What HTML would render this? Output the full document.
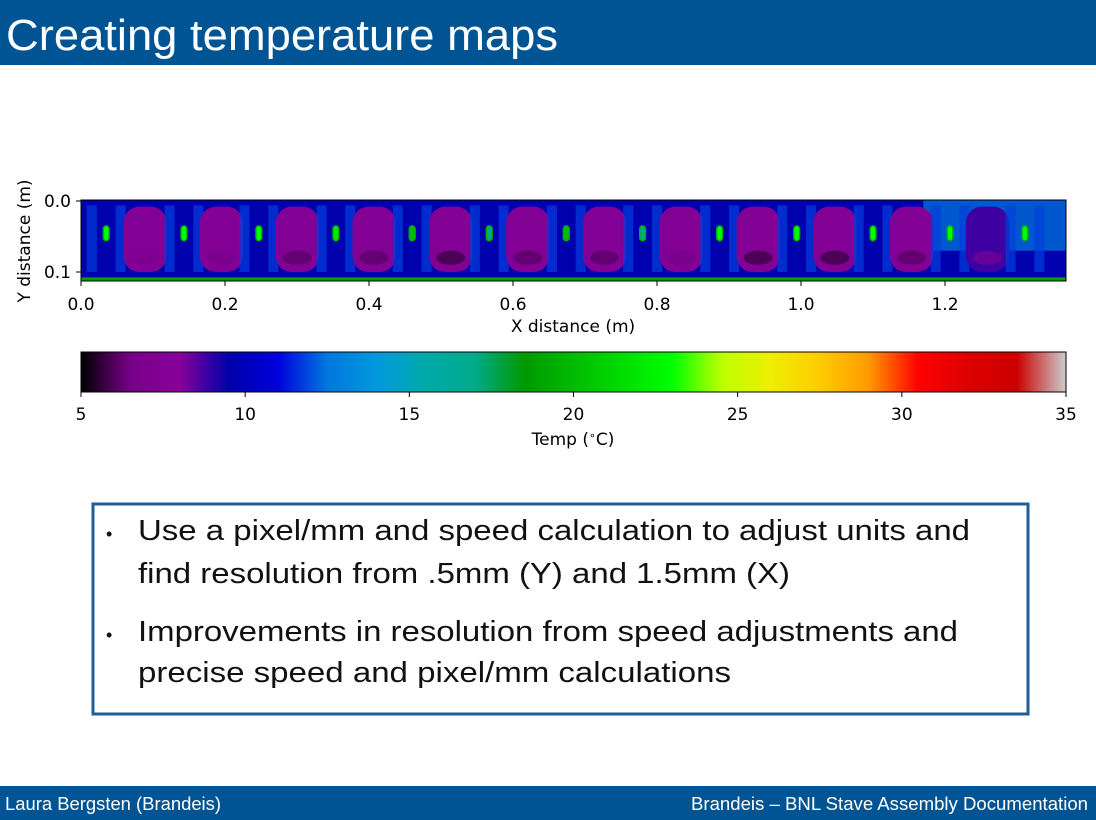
<!DOCTYPE html>
<html><head><meta charset="utf-8"><style>
html,body{margin:0;padding:0;background:#fff;}
svg{display:block;font-family:"Liberation Sans",sans-serif;}
.tk{font-family:"DejaVu Sans",sans-serif;font-size:17px;fill:#000;}
</style></head><body>
<svg id="page" width="1096" height="820" viewBox="0 0 1096 820" xmlns="http://www.w3.org/2000/svg">
<defs>
<linearGradient id="spec" x1="0" x2="1" y1="0" y2="0">
<stop offset="0" stop-color="#000000"/><stop offset="0.05" stop-color="#770088"/><stop offset="0.10" stop-color="#880099"/>
<stop offset="0.15" stop-color="#0000aa"/><stop offset="0.20" stop-color="#0000dd"/><stop offset="0.25" stop-color="#0077dd"/>
<stop offset="0.30" stop-color="#0099dd"/><stop offset="0.35" stop-color="#00aaaa"/><stop offset="0.40" stop-color="#00aa88"/>
<stop offset="0.45" stop-color="#009900"/><stop offset="0.50" stop-color="#00bb00"/><stop offset="0.55" stop-color="#00dd00"/>
<stop offset="0.60" stop-color="#00ff00"/><stop offset="0.65" stop-color="#bbff00"/><stop offset="0.70" stop-color="#eeee00"/>
<stop offset="0.75" stop-color="#ffcc00"/><stop offset="0.80" stop-color="#ff9900"/><stop offset="0.85" stop-color="#ff0000"/>
<stop offset="0.90" stop-color="#dd0000"/><stop offset="0.95" stop-color="#cc0000"/><stop offset="1" stop-color="#cccccc"/>
</linearGradient>
<clipPath id="plotclip"><rect x="81" y="200" width="985" height="81"/></clipPath>
</defs>
<rect x="0" y="0" width="1096" height="65" fill="#005493"/>
<text x="6" y="50" font-size="44" fill="#fff" textLength="552" lengthAdjust="spacingAndGlyphs">Creating temperature maps</text>

<g id="heatmap" clip-path="url(#plotclip)"></g>
<rect x="81" y="200" width="985" height="81" fill="none" stroke="#000" stroke-width="1"/>
<g id="axes"></g>
<text x="573" y="332" class="tk" text-anchor="middle">X distance (m)</text>
<text transform="translate(30,241) rotate(-90)" class="tk" text-anchor="middle">Y distance (m)</text>

<rect x="81" y="352" width="985" height="40" fill="url(#spec)" stroke="#000" stroke-width="1"/>
<g id="cbaxis"></g>
<text x="573" y="445" class="tk" text-anchor="middle">Temp (<tspan font-size="11" dy="-6">∘</tspan><tspan dy="6">C)</tspan></text>

<rect x="93" y="504" width="935" height="210" fill="none" stroke="#1f5e96" stroke-width="3"/>
<g font-size="29" fill="#111">
<text x="106" y="540" font-size="18">•</text>
<text x="138" y="540" textLength="832" lengthAdjust="spacingAndGlyphs">Use a pixel/mm and speed calculation to adjust units and</text>
<text x="138" y="583" textLength="652" lengthAdjust="spacingAndGlyphs">find resolution from .5mm (Y) and 1.5mm (X)</text>
<text x="106" y="641" font-size="18">•</text>
<text x="138" y="641" textLength="820" lengthAdjust="spacingAndGlyphs">Improvements in resolution from speed adjustments and</text>
<text x="138" y="682" textLength="593" lengthAdjust="spacingAndGlyphs">precise speed and pixel/mm calculations</text>
</g>
<rect x="0" y="786" width="1096" height="34" fill="#005493"/>
<text x="5" y="810" font-size="18" fill="#fff" textLength="216" lengthAdjust="spacingAndGlyphs">Laura Bergsten (Brandeis)</text>
<text x="691" y="810" font-size="18" fill="#fff" textLength="397" lengthAdjust="spacingAndGlyphs">Brandeis – BNL Stave Assembly Documentation</text>
</svg>
<script>
// data
const unitCenters=[0.035,0.143,0.247,0.354,0.460,0.567,0.674,0.780,0.887,0.994,1.100,1.207,1.311];
const spotTemps=[23,23,23,22,20,17,20,17,23,23,23,23,23];
const blobTemps=[7.5,7.5,7.5,7.5,7.5,7.5,7.5,7.5,7.5,7.5,7.6,8.8];
const blobCoreTemps=[7,6.5,6,6,5.5,6,6,6.5,5.5,5.5,6,7.5];
const xTicks=[0,0.2,0.4,0.6,0.8,1.0,1.2];
const yTicks=[0.0,0.1];
const cbTicks=[5,10,15,20,25,30,35];
// scales
const X=v=>81+v*720, Y=v=>201+v*710;
const C=t=>81+(t-5)/30*985;
const stops=[[0,0,0],[.4667,0,.5333],[.5333,0,.6],[0,0,.6667],[0,0,.8667],[0,.4667,.8667],[0,.6,.8667],[0,.6667,.6667],[0,.6667,.5333],[0,.6,0],[0,.7333,0],[0,.8667,0],[0,1,0],[.7333,1,0],[.9333,.9333,0],[1,.8,0],[1,.6,0],[1,0,0],[.8667,0,0],[.8,0,0],[.8,.8,.8]];
function cmap(t){let f=Math.max(0,Math.min(1,(t-5)/30))*20;let i=Math.min(19,Math.floor(f));let r=f-i;let a=stops[i],b=stops[i+1];
return 'rgb('+[0,1,2].map(k=>Math.round(255*(a[k]+(b[k]-a[k])*r))).join(',')+')';}
const NS='http://www.w3.org/2000/svg';
function mk(parent,tag,attrs){const e=document.createElementNS(NS,tag);for(const k in attrs)e.setAttribute(k,attrs[k]);parent.appendChild(e);return e;}
const hm=document.getElementById('heatmap');
let bg=mk(hm,'rect',{x:X(0),y:Y(-0.002),width:X(1.37)-X(0),height:Y(0.115)-Y(-0.002),fill:cmap(9.6)});


let lb=mk(hm,'rect',{x:X(1.17),y:Y(-0.002),width:X(1.37)-X(1.17),height:Y(0.07)-Y(-0.002),fill:cmap(12.8),opacity:0.7});


let strip=mk(hm,'rect',{x:X(0),y:Y(0.1075),width:X(1.37)-X(0),height:Y(0.112)-Y(0.1075),fill:cmap(18.8)});


unitCenters.forEach((c,i)=>{
  [-0.02,0.02].forEach(d=>{
    let p=mk(hm,'rect',{x:X(c+d-0.007),y:Y(0.006),width:X(0.014)-X(0),height:Y(0.1)-Y(0.006),fill:cmap(11.8),opacity:0.7});
    
    
  });
  let s=mk(hm,'rect',{x:X(c-0.004),y:Y(0.035),width:X(0.008)-X(0),height:Y(0.056)-Y(0.035),rx:3,fill:cmap(spotTemps[i]),stroke:cmap(19.5),'stroke-width':1.5});
  
  
  if(i<blobTemps.length){
    const m=(c+unitCenters[i+1])/2;
    let b=mk(hm,'rect',{x:X(m-0.03),y:Y(0.008),width:X(0.06)-X(0),height:Y(0.1)-Y(0.008),rx:16,fill:cmap(blobTemps[i])});
    
    
    let k=mk(hm,'ellipse',{cx:X(m),cy:Y(0.08),rx:X(0.02)-X(0),ry:7,fill:cmap(blobCoreTemps[i]),opacity:0.6});
    
    
  }
});
const ax=document.getElementById('axes');
xTicks.forEach(v=>{
  let l=mk(ax,'line',{x1:X(v),x2:X(v),y1:281,y2:286,stroke:'#000'});
  
  
  let t=mk(ax,'text',{x:X(v),y:310,class:'tk','text-anchor':'middle'});t.textContent=v.toFixed(1);
  
  
});
yTicks.forEach(v=>{
  let l=mk(ax,'line',{x1:76,x2:81,y1:Y(v),y2:Y(v),stroke:'#000'});
  
  
  let t=mk(ax,'text',{x:71,y:Y(v)+6,class:'tk','text-anchor':'end'});t.textContent=v.toFixed(1);
  
  
});
const cb=document.getElementById('cbaxis');
cbTicks.forEach(v=>{
  let l=mk(cb,'line',{x1:C(v),x2:C(v),y1:392,y2:397,stroke:'#000'});
  
  
  let t=mk(cb,'text',{x:C(v),y:420,class:'tk','text-anchor':'middle'});t.textContent=v;
  
  
});
</script>
</body></html>
